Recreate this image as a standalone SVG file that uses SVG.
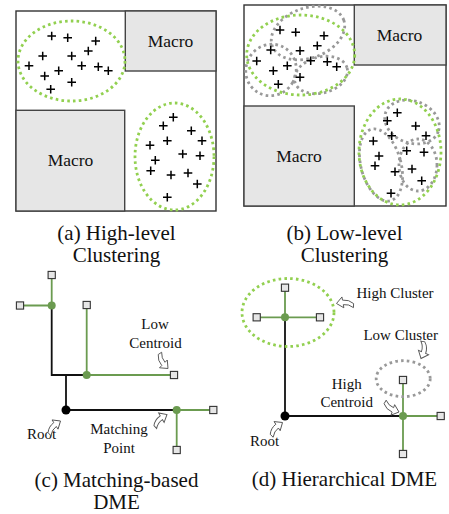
<svg xmlns="http://www.w3.org/2000/svg" xmlns:xlink="http://www.w3.org/1999/xlink" width="449" height="514" viewBox="0 0 449 514">
<style>
text{font-family:"Liberation Serif","Times New Roman",serif;fill:#111}
.cap{font-size:21px;text-anchor:middle}
.lbl{font-size:15px;text-anchor:middle}
.mac{font-size:17.5px;text-anchor:middle}
.box{fill:#fff;stroke:#333;stroke-width:1.4}
.macro{fill:#e6e6e6;stroke:#444;stroke-width:1.4}
.gd{fill:none;stroke:#92d050;stroke-width:2.8;stroke-dasharray:2.6 3.2}
.yd{fill:none;stroke:#999;stroke-width:2.8;stroke-dasharray:2.6 3.2}
.bl{fill:none;stroke:#111;stroke-width:1.8}
.gl{fill:none;stroke:#6b9b50;stroke-width:1.8}
.sq{fill:#e6e6e6;stroke:#333;stroke-width:1.1}
.gdot{fill:#6b9b50}
.arr{fill:#fff;stroke:#555;stroke-width:0.9}
.pl{stroke:#000;stroke-width:1.5;fill:none}
</style>
<defs>
<path id="p" class="pl" d="M-4.3,0H4.3M0,-4.3V4.3"/>
<rect id="s" class="sq" x="-3.6" y="-3.6" width="7.2" height="7.2"/>
<path id="a" class="arr" d="M0,0 L-6.5,-5.5 L-6.5,-2.3 Q-12,-2.5 -16,-7 L-16.8,-3 Q-13,1.8 -6.5,2.3 L-6.5,5.5 Z"/>
</defs>

<g id="panel-a">
<rect class="box" x="16" y="11" width="200" height="200"/>
<rect class="macro" x="125.3" y="11" width="90.7" height="60"/>
<rect class="macro" x="16" y="110.3" width="108.7" height="100.7"/>
<text class="mac" x="170.5" y="47">Macro</text>
<text class="mac" x="70.5" y="166">Macro</text>
<ellipse class="gd" cx="71.5" cy="61" rx="53.5" ry="40"/>
<ellipse class="gd" cx="174.5" cy="156.5" rx="39.5" ry="53.5"/>
<use href="#p" x="51.7" y="36"/><use href="#p" x="67.7" y="37.7"/><use href="#p" x="95.7" y="41"/><use href="#p" x="88.3" y="51"/><use href="#p" x="42.7" y="56"/><use href="#p" x="71.7" y="56"/><use href="#p" x="29" y="65.7"/><use href="#p" x="81.7" y="65.7"/><use href="#p" x="98.3" y="66.7"/><use href="#p" x="108.3" y="70.7"/><use href="#p" x="58.7" y="70.7"/><use href="#p" x="44.7" y="76"/><use href="#p" x="71.7" y="82.3"/><use href="#p" x="50.7" y="89.3"/>
<use href="#p" x="173.3" y="117.3"/><use href="#p" x="163.3" y="125.7"/><use href="#p" x="191.3" y="130.7"/><use href="#p" x="202" y="140.7"/><use href="#p" x="167.3" y="140.7"/><use href="#p" x="150" y="145.3"/><use href="#p" x="182.7" y="154"/><use href="#p" x="200" y="155.7"/><use href="#p" x="155.3" y="160.3"/><use href="#p" x="150.7" y="170.7"/><use href="#p" x="188" y="173"/><use href="#p" x="171" y="175"/><use href="#p" x="197.3" y="184"/><use href="#p" x="167.3" y="197.3"/>
<text class="cap" x="116.5" y="240">(a) High-level</text>
<text class="cap" x="116.5" y="262">Clustering</text>
</g>

<g id="panel-b">
<rect class="box" x="244" y="5" width="202" height="201"/>
<rect class="macro" x="354.3" y="5" width="91.7" height="60"/>
<rect class="macro" x="244" y="106" width="110.3" height="100"/>
<text class="mac" x="399.5" y="41">Macro</text>
<text class="mac" x="299" y="162">Macro</text>
<ellipse class="yd" cx="308" cy="33" rx="38" ry="25" transform="rotate(-20 308 33)"/>
<ellipse class="yd" cx="271" cy="70" rx="25" ry="26" transform="rotate(30 271 70)"/>
<ellipse class="yd" cx="321" cy="75" rx="27" ry="18" transform="rotate(-15 321 75)"/>
<ellipse class="yd" cx="412" cy="122" rx="28" ry="21" transform="rotate(20 412 122)"/>
<ellipse class="yd" cx="381" cy="165" rx="20" ry="37" transform="rotate(-15 381 165)"/>
<ellipse class="yd" cx="418" cy="165" rx="19" ry="26"/>
<ellipse class="gd" cx="300.7" cy="55" rx="54" ry="40"/>
<ellipse class="gd" cx="400" cy="152" rx="41" ry="53"/>
<use href="#p" x="280" y="30"/><use href="#p" x="295.7" y="32.3"/><use href="#p" x="324" y="35.7"/><use href="#p" x="317.3" y="45.7"/><use href="#p" x="270.7" y="50"/><use href="#p" x="300" y="50.7"/><use href="#p" x="256.7" y="61"/><use href="#p" x="310.7" y="60.7"/><use href="#p" x="327.3" y="61.7"/><use href="#p" x="336.7" y="66.7"/><use href="#p" x="287.3" y="65.7"/><use href="#p" x="273.3" y="70.7"/><use href="#p" x="300" y="77.3"/><use href="#p" x="278.3" y="84.3"/>
<use href="#p" x="397.3" y="112.7"/><use href="#p" x="387.3" y="120.7"/><use href="#p" x="415.7" y="126"/><use href="#p" x="426" y="135.7"/><use href="#p" x="391.7" y="135.7"/><use href="#p" x="373.3" y="141"/><use href="#p" x="406.7" y="150.7"/><use href="#p" x="424" y="152.3"/><use href="#p" x="379" y="156"/><use href="#p" x="375" y="165.7"/><use href="#p" x="412" y="169"/><use href="#p" x="395" y="171.7"/><use href="#p" x="421.7" y="180.7"/><use href="#p" x="391" y="193.3"/>
<text class="cap" x="344.5" y="240">(b) Low-level</text>
<text class="cap" x="344.5" y="262">Clustering</text>
</g>

<g id="connectors">
<path class="bl" d="M51.7,305.5V375H86.7M66,375V410H176.7"/>
<path class="gl" d="M51.7,275V305.5H20M86.7,305V375H174M176.7,410H213.3M176.7,410V450"/>
<path class="bl" d="M285,317.3V416H403"/>
<path class="gl" d="M285,287.7V317.3M256.7,317.3H320M403,380V454M403,416H440.7"/>
</g>

<g id="panel-c-nodes">
<use href="#s" x="51.7" y="275"/>
<use href="#s" x="20" y="305.5"/>
<use href="#s" x="86.7" y="305"/>
<use href="#s" x="174" y="375"/>
<use href="#s" x="213.3" y="410"/>
<use href="#s" x="176.7" y="450"/>
<circle class="gdot" cx="51.7" cy="305.5" r="4"/>
<circle class="gdot" cx="86.7" cy="375" r="4"/>
<circle class="gdot" cx="176.7" cy="410" r="4"/>
<circle cx="66" cy="410" r="4.5" fill="#000"/>
</g>

<g id="panel-c-labels">
<text class="lbl" x="155" y="329">Low</text>
<text class="lbl" x="155.5" y="347.5">Centroid</text>
<use href="#a" transform="translate(168,368.5) rotate(45)"/>
<text class="lbl" x="41.5" y="439">Root</text>
<use href="#a" transform="translate(60.5,421) rotate(-33) scale(1,-1)"/>
<text class="lbl" x="119" y="434">Matching</text>
<text class="lbl" x="119" y="453">Point</text>
<use href="#a" transform="translate(167,414.5) rotate(-30) scale(1,-1)"/>
<text class="cap" x="116.5" y="487">(c) Matching-based</text>
<text class="cap" x="116.5" y="509">DME</text>
</g>

<g id="panel-d-nodes">
<ellipse class="gd" cx="288" cy="312.5" rx="46" ry="34"/>
<ellipse class="yd" cx="403.2" cy="378.7" rx="27" ry="18"/>
<use href="#s" x="285" y="287.7"/>
<use href="#s" x="256.7" y="317.3"/>
<use href="#s" x="320" y="317.3"/>
<use href="#s" x="403" y="380"/>
<use href="#s" x="440.7" y="416"/>
<use href="#s" x="403" y="454"/>
<circle class="gdot" cx="285" cy="317.3" r="4"/>
<circle class="gdot" cx="403" cy="416" r="4"/>
<circle cx="285" cy="416" r="4.5" fill="#000"/>
</g>

<g id="panel-d-labels">
<text class="lbl" x="395" y="298">High Cluster</text>
<use href="#a" transform="translate(336.5,303.5) rotate(170)"/>
<text class="lbl" x="400.7" y="339.5">Low Cluster</text>
<use href="#a" transform="translate(421,358.5) rotate(113) scale(1,-1)"/>
<text class="lbl" x="346.7" y="388.5">High</text>
<text class="lbl" x="346.7" y="407">Centroid</text>
<use href="#a" transform="translate(399,412) rotate(19)"/>
<text class="lbl" x="264.7" y="446">Root</text>
<use href="#a" transform="translate(282.5,422.5) rotate(-34) scale(1,-1)"/>
<text class="cap" x="344.5" y="486">(d) Hierarchical DME</text>
</g>
</svg>
